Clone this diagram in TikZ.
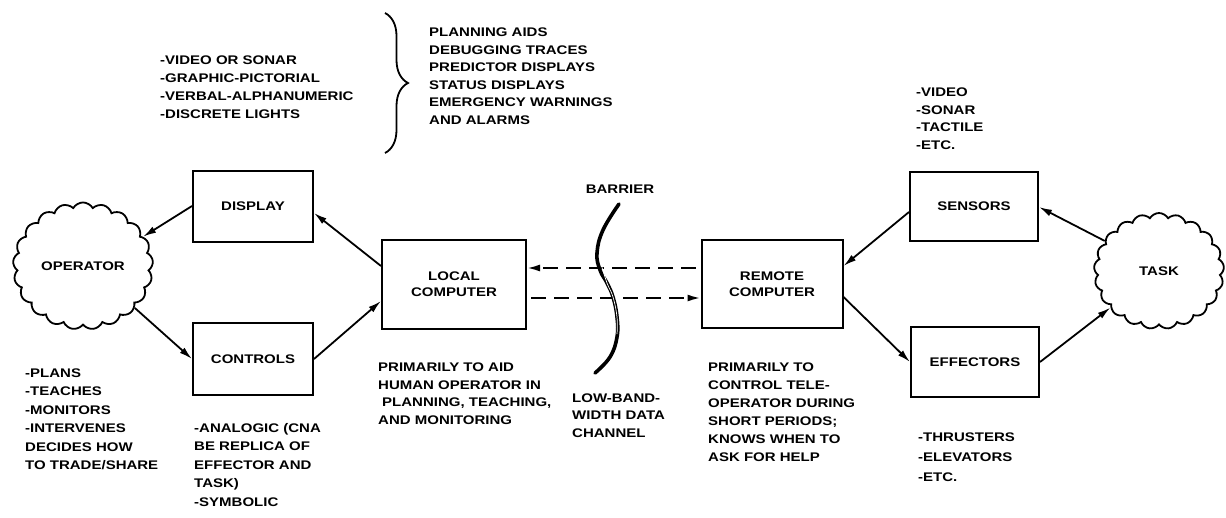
\documentclass[tikz,border=0pt]{standalone}
\usepackage{fontspec}
\setmainfont{Liberation Sans}[FakeStretch=1.2]
\usetikzlibrary{arrows.meta,shapes.symbols,decorations.pathreplacing}

% invisible strut so the top of every note sits at cap height
\newcommand\capstrut{\rule{0pt}{9.2pt}}

\begin{document}
\begin{tikzpicture}[x=1pt,y=-1pt,
  box/.style={draw, line width=2pt, inner sep=0pt, align=center,
    font=\fontsize{12.5}{16.5}\selectfont\bfseries},
  puff/.style={draw, cloud, cloud puffs=21, cloud puff arc=120, line width=1.8pt,
    inner sep=0pt, font=\fontsize{12.5}{16.5}\selectfont\bfseries},
  note/.style={anchor=north west, inner sep=0pt, align=left,
    font=\fontsize{12.5}{#1}\selectfont\bfseries},
  note/.default=18,
  arr/.style={-{Latex[length=13pt,width=7pt]}, line width=1.8pt},
  dlink/.style={-{Latex[length=13pt,width=7pt]}, line width=2pt,
    dash pattern=on 15pt off 8pt}
]
\useasboundingbox (0,0) rectangle (1226,517);

% main blocks
\node[box, minimum width=120pt, minimum height=71pt] (display) at (253,206) {DISPLAY};
\node[box, minimum width=120pt, minimum height=72pt] (controls) at (253,359) {CONTROLS};
\node[box, minimum width=144pt, minimum height=89pt] (local) at (454,284) {LOCAL\\COMPUTER};
\node[box, minimum width=141pt, minimum height=88pt] (remote) at (772,284) {REMOTE\\COMPUTER};
\node[box, minimum width=128pt, minimum height=69pt] (sensors) at (974,206) {SENSORS};
\node[box, minimum width=128pt, minimum height=70pt] (effectors) at (975,362) {EFFECTORS};
\node[puff, minimum width=140pt, minimum height=112pt] (operator) at (83,266) {OPERATOR};
\node[puff, minimum width=130pt, minimum height=116pt] (task) at (1159,271) {TASK};

% solid connectors
\draw[arr] (display.west) -- (operator.26);
\draw[arr] ([yshift=18pt]local.west) -- ([yshift=-7pt]display.east);
\draw[arr] (operator.-39) -- (controls.west);
\draw[arr] (controls.east) -- ([yshift=-17pt]local.west);
\draw[arr] ([yshift=-6pt]sensors.west) -- ([yshift=18pt]remote.east);
\draw[arr] ([yshift=-13pt]remote.east) -- (effectors.west);
\draw[arr] (task.151) -- ([yshift=-1pt]sensors.east);
\draw[arr] (effectors.east) -- (task.217);

% data channel across the barrier
\draw[dlink, shorten <=5pt] ([yshift=16pt]remote.west) -- ([yshift=16pt]local.east);
\draw[dlink, shorten <=4pt] ([yshift=-14pt]local.east) -- ([yshift=-14pt]remote.west);

% barrier
\draw[line width=3.6pt, line cap=round] plot[smooth, tension=0.7] coordinates
  {(619,204) (603,230) (597,253) (600,270) (607,283) (613,297) (617,317) (617,337) (610,357) (595,373)};
\draw[white, line width=0.7pt] plot[smooth, tension=0.7] coordinates
  {(601,264) (607,283) (613,297) (617,317) (617,334)};
\node[inner sep=0pt, font=\fontsize{12.5}{16}\selectfont\bfseries] (barrier) at (620,189) {BARRIER};

% brace between the display lists
\draw[decorate, decoration={brace, amplitude=23pt}, line width=1.8pt] (385,13) -- (385,153);

% notes
\node[note] (videolist) at (160,55) {\capstrut-VIDEO OR SONAR\\-GRAPHIC-PICTORIAL\\-VERBAL-ALPHANUMERIC\\-DISCRETE LIGHTS};
\node[note=17.6] (aidlist) at (429,27) {\capstrut PLANNING AIDS\\DEBUGGING TRACES\\PREDICTOR DISPLAYS\\STATUS DISPLAYS\\EMERGENCY WARNINGS\\AND ALARMS};
\node[note=17.5] (senslist) at (916,87.5) {\capstrut-VIDEO\\-SONAR\\-TACTILE\\-ETC.};
\node[note=18.4] (opnotes) at (25,368) {\capstrut-PLANS\\-TEACHES\\-MONITORS\\-INTERVENES\\DECIDES HOW\\TO TRADE/SHARE};
\node[note=18.5] (ctlnotes) at (194,423) {\capstrut-ANALOGIC (CNA\\BE REPLICA OF\\EFFECTOR AND\\TASK)\\-SYMBOLIC};
\node[note=17.7] (localnotes) at (378,362) {\capstrut PRIMARILY TO AID\\HUMAN OPERATOR IN\\\hspace*{4pt}PLANNING, TEACHING,\\AND MONITORING};
\node[note=17.5] (bandnotes) at (572,393) {\capstrut LOW-BAND-\\WIDTH DATA\\CHANNEL};
\node[note=18] (remotenotes) at (708,362) {\capstrut PRIMARILY TO\\CONTROL TELE-\\OPERATOR DURING\\SHORT PERIODS;\\KNOWS WHEN TO\\ASK FOR HELP};
\node[note=20] (effnotes) at (918,432) {\capstrut-THRUSTERS\\-ELEVATORS\\-ETC.};
\end{tikzpicture}
\end{document}
